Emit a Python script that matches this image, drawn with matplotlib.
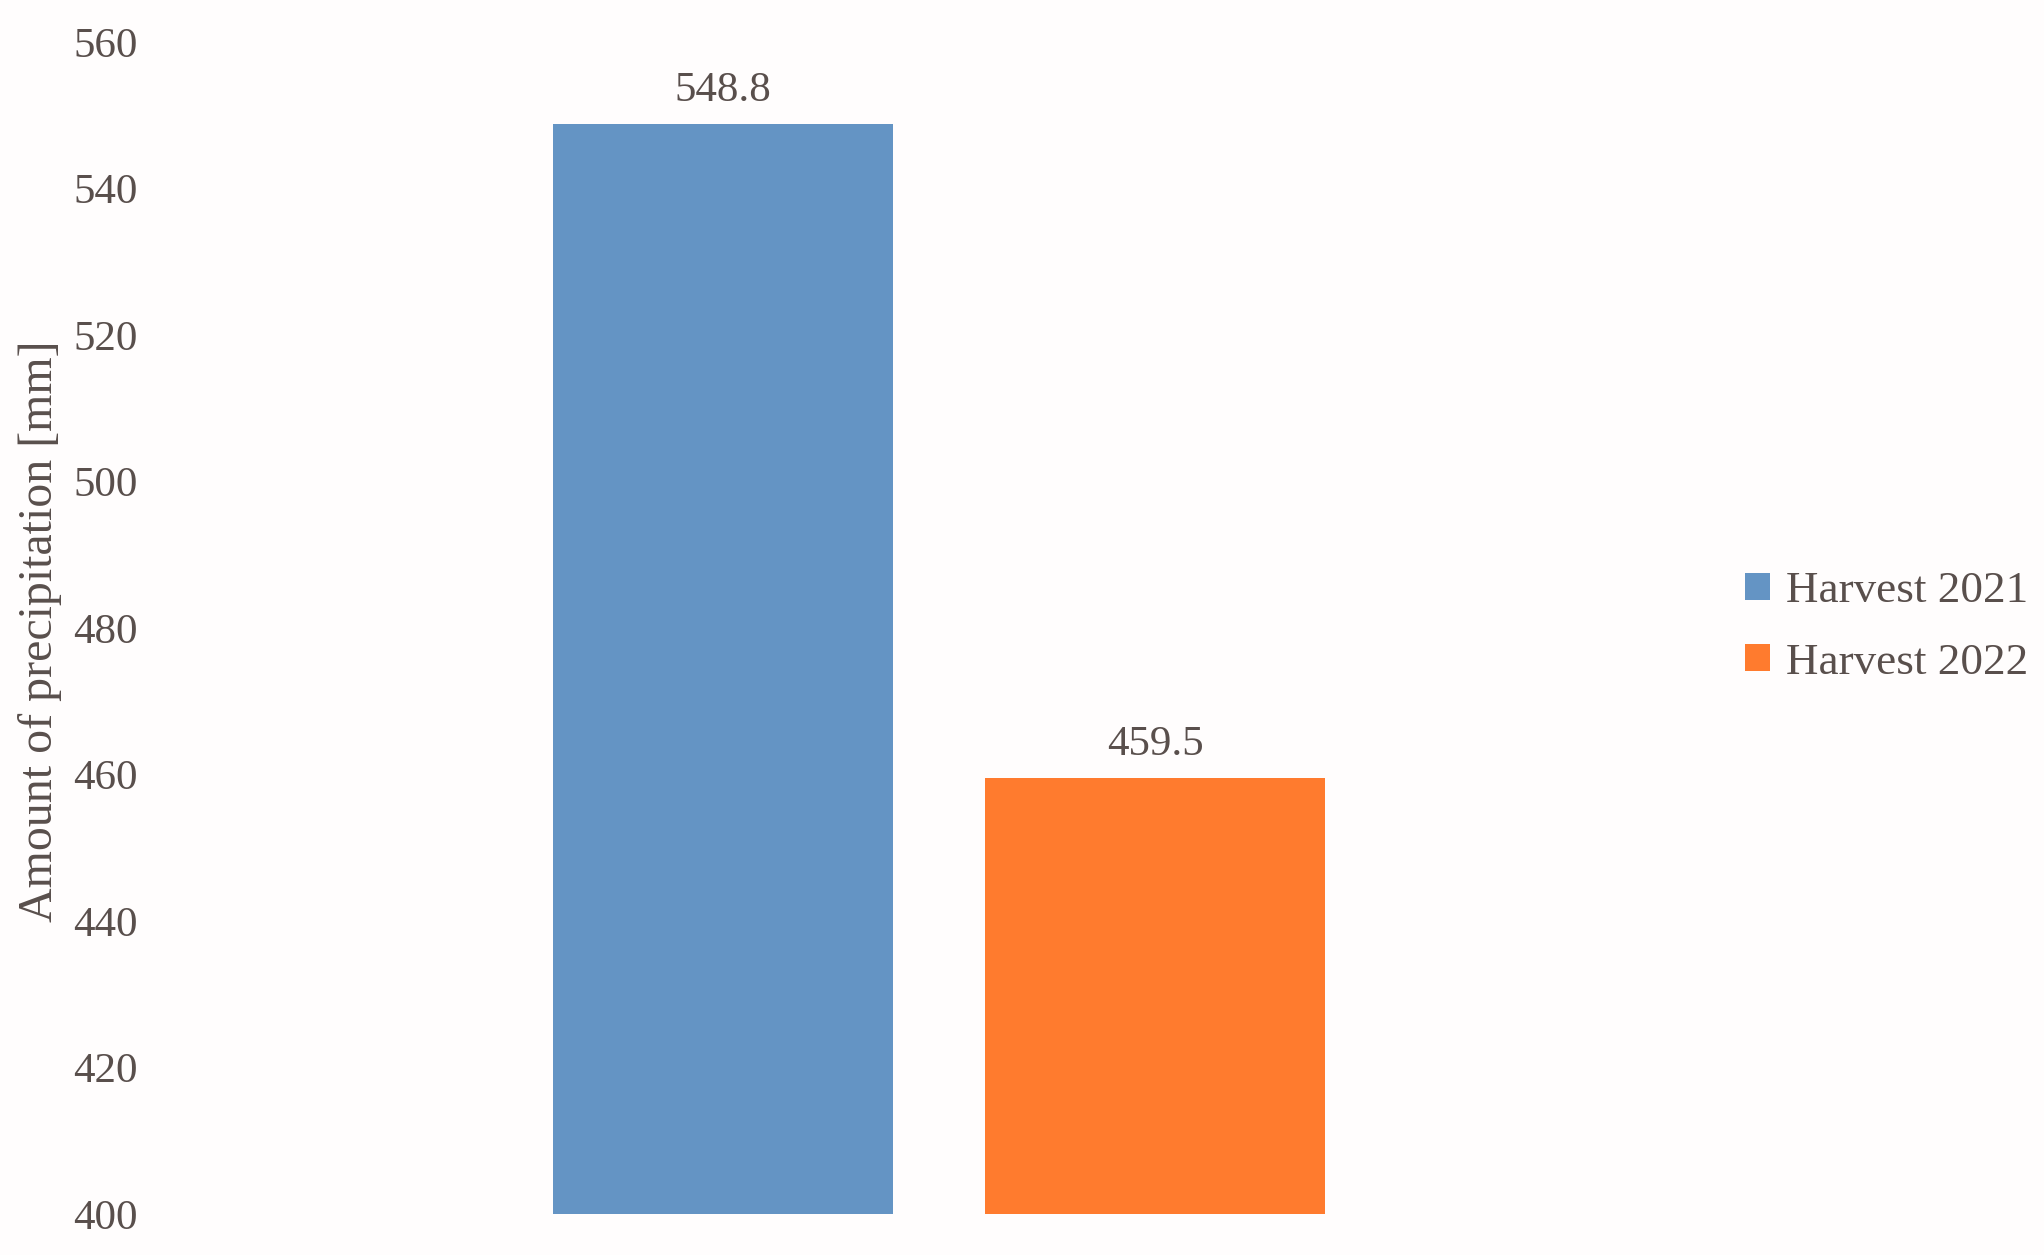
import matplotlib
matplotlib.use("Agg")
import matplotlib.pyplot as plt

series = ["Harvest 2021", "Harvest 2022"]
values = [548.8, 459.5]
colors = ["#6494C4", "#FF7B2E"]
yticks = [400, 420, 440, 460, 480, 500, 520, 540, 560]
ylabel = "Amount of precipitation [mm]"

plt.rcParams['font.family'] = ['Liberation Serif', 'DejaVu Serif']
txt = "#594F4C"
fs = 31

W, H = 2044, 1255
fig = plt.figure(figsize=(W/100, H/100), dpi=100)
fig.patch.set_facecolor("#FFFDFD")
left, right = 150, 1700
bottom, top = 1214, 42
ax = fig.add_axes([left/W, 1-bottom/H, (right-left)/W, (bottom-top)/H])
ax.set_facecolor("#FFFDFD")

pitch = 432.0
x0_px = 723
xs = [0, 1]
bw = 340/pitch
bars = []
for x, v, c, s in zip(xs, values, colors, series):
    b = ax.bar(x, v - 400, bottom=400, width=bw, color=c, label=s)
    bars.append(b)
    ax.annotate(f"{v:.1f}", (x, v), xytext=(0, 10), textcoords="offset points",
                ha="center", va="bottom", fontsize=fs, color=txt)

ax.set_xlim(-(x0_px-left)/pitch, (right-x0_px)/pitch)
ax.set_ylim(400, 560)
ax.set_yticks(yticks)
ax.set_yticklabels([str(t) for t in yticks], fontsize=fs, color=txt)
ax.tick_params(axis='y', length=0, pad=9)
ax.set_xticks([])
for sp in ax.spines.values():
    sp.set_visible(False)

fig.text(40/W, 1-631/H, ylabel, rotation=90, ha="center", va="center", fontsize=34.5, color=txt)

leg = fig.legend(handles=[b[0] for b in bars], labels=series, loc="center left",
                 bbox_to_anchor=(1745/W, 1-627/H), frameon=False, fontsize=32.5,
                 handlelength=0.55, handleheight=0.55, handletextpad=0.35,
                 labelspacing=0.7, borderpad=0, borderaxespad=0)
for t in leg.get_texts():
    t.set_color(txt)

fig.savefig("out.png", dpi=100, facecolor=fig.get_facecolor())
